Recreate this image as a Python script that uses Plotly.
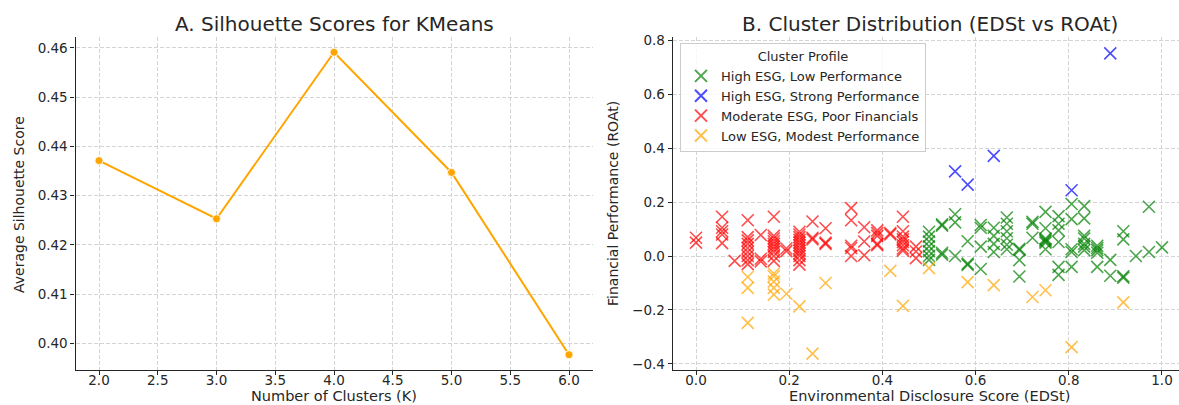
import plotly.graph_objects as go

# ---------------- data ----------------
k_values = [2, 3, 4, 5, 6]
silhouette = [0.4371, 0.4253, 0.4591, 0.4347, 0.3977]

green_name = "High ESG, Low Performance"
green_edst = [0.5, 0.5, 0.5, 0.5, 0.5, 0.5, 0.5,
              0.528, 0.528, 0.528, 0.528,
              0.556, 0.556, 0.556,
              0.583, 0.583, 0.583,
              0.611, 0.611, 0.611, 0.611,
              0.639, 0.639, 0.639, 0.639,
              0.667, 0.667, 0.667, 0.667, 0.667, 0.667,
              0.694, 0.694, 0.694, 0.694,
              0.722, 0.722, 0.722,
              0.75, 0.75, 0.75, 0.75, 0.75, 0.75, 0.75,
              0.778, 0.778, 0.778, 0.778, 0.778, 0.778,
              0.806, 0.806, 0.806, 0.806, 0.806,
              0.833, 0.833, 0.833, 0.833, 0.833, 0.833, 0.833,
              0.861, 0.861, 0.861, 0.861, 0.861,
              0.889, 0.889,
              0.917, 0.917, 0.917, 0.917,
              0.944,
              0.972, 0.972,
              1.0]
green_roat = [0.09, 0.072, 0.054, 0.036, 0.018, 0.0, -0.014,
              0.118, 0.113, 0.012, 0.005,
              0.155, 0.125, 0.0,
              0.055, -0.028, -0.033,
              0.115, 0.105, 0.035, -0.048,
              0.105, 0.075, 0.045, 0.015,
              0.143, 0.12, 0.092, 0.066, 0.042, 0.025,
              0.027, 0.022, -0.015, -0.076,
              0.127, 0.12, 0.068,
              0.164, 0.103, 0.065, 0.06, 0.055, 0.05, 0.025,
              0.148, 0.12, 0.095, 0.052, -0.04, -0.07,
              0.193, 0.137, 0.025, 0.015, -0.04,
              0.185, 0.14, 0.075, 0.065, 0.045, 0.035, 0.022,
              0.038, 0.03, 0.022, 0.012, -0.04,
              -0.014, -0.073,
              0.092, 0.062, -0.075, -0.08,
              0.0,
              0.183, 0.015,
              0.032]

blue_name = "High ESG, Strong Performance"
blue_edst = [0.556, 0.583, 0.639, 0.806, 0.889]
blue_roat = [0.314, 0.265, 0.372, 0.244, 0.752]

red_name = "Moderate ESG, Poor Financials"
red_edst = [0.0, 0.0,
            0.056, 0.056, 0.056, 0.056, 0.056,
            0.083,
            0.111, 0.111, 0.111, 0.111, 0.111, 0.111, 0.111, 0.111, 0.111,
            0.139, 0.139, 0.139,
            0.167, 0.167, 0.167, 0.167, 0.167, 0.167, 0.167, 0.167, 0.167, 0.167,
            0.194, 0.194,
            0.222, 0.222, 0.222, 0.222, 0.222, 0.222, 0.222, 0.222, 0.222, 0.222, 0.222, 0.222,
            0.25, 0.25, 0.25,
            0.278, 0.278, 0.278,
            0.333, 0.333, 0.333, 0.333, 0.333,
            0.361, 0.361, 0.361,
            0.389, 0.389, 0.389, 0.389, 0.389,
            0.417, 0.417,
            0.444, 0.444, 0.444, 0.444, 0.444, 0.444, 0.444, 0.444,
            0.472, 0.472, 0.472]
red_roat = [0.068, 0.05,
            0.146, 0.105, 0.092, 0.08, 0.048,
            -0.018,
            0.133, 0.07, 0.058, 0.045, 0.03, 0.015, 0.0, -0.015, -0.03,
            0.078, -0.01, -0.02,
            0.146, 0.075, 0.065, 0.055, 0.045, 0.035, 0.025, 0.015, 0.0, -0.018,
            0.028, 0.018,
            0.09, 0.08, 0.07, 0.06, 0.05, 0.04, 0.03, 0.02, 0.01, 0.0, -0.015, -0.032,
            0.128, 0.068, 0.062,
            0.103, 0.05, 0.045,
            0.178, 0.133, 0.038, 0.03, 0.0,
            0.107, 0.054, 0.003,
            0.095, 0.085, 0.075, 0.045, 0.04,
            0.085, 0.08,
            0.146, 0.092, 0.072, 0.062, 0.052, 0.04, 0.028, 0.02,
            0.035, 0.017, -0.008]

orange_name = "Low ESG, Modest Performance"
orange_edst = [0.111, 0.111, 0.111,
               0.167, 0.167, 0.167, 0.167, 0.167,
               0.194, 0.222, 0.25, 0.278, 0.417, 0.444, 0.5,
               0.583, 0.639, 0.722, 0.75, 0.806, 0.917]
orange_roat = [-0.078, -0.118, -0.248,
               -0.065, -0.075, -0.095, -0.118, -0.143,
               -0.14, -0.187, -0.362, -0.1, -0.055, -0.185, -0.045,
               -0.097, -0.108, -0.152, -0.127, -0.338, -0.172]

x1_ticks = [2.0, 2.5, 3.0, 3.5, 4.0, 4.5, 5.0, 5.5, 6.0]
y1_ticks = [0.40, 0.41, 0.42, 0.43, 0.44, 0.45, 0.46]
x2_ticks = [0.0, 0.2, 0.4, 0.6, 0.8, 1.0]
y2_ticks = [-0.4, -0.2, 0.0, 0.2, 0.4, 0.6, 0.8]

# ---------------- figure ----------------
W, H = 1179, 405
TOP, BOT = 37, 370
PH = BOT - TOP
FONT = "DejaVu Sans"
TXT = "#262626"

def py(pix):
    """pixel row -> paper y"""
    return (BOT - pix) / PH

fig = go.Figure()

fig.add_trace(go.Scatter(
    x=k_values, y=silhouette, mode="lines+markers",
    line=dict(color="#FFA500", width=2),
    marker=dict(size=8, color="#FFA500", line=dict(color="white", width=0.8)),
    xaxis="x", yaxis="y", showlegend=False))

clusters = [
    (green_name, green_edst, green_roat, "rgba(0,128,0,0.7)"),
    (blue_name, blue_edst, blue_roat, "rgba(0,0,255,0.7)"),
    (red_name, red_edst, red_roat, "rgba(255,0,0,0.7)"),
    (orange_name, orange_edst, orange_roat, "rgba(255,165,0,0.7)"),
]
for name, xs, ys, col in clusters:
    fig.add_trace(go.Scatter(
        x=xs, y=ys, mode="markers", name=name,
        marker=dict(symbol="x-thin", size=12, color=col,
                    line=dict(color=col, width=1.6)),
        xaxis="x2", yaxis="y2"))

axis_common = dict(
    showline=True, linecolor=TXT, linewidth=1.2, mirror=False,
    ticks="outside", ticklen=4, tickwidth=1, tickcolor=TXT,
    showgrid=True, gridcolor="#d4d4d4", griddash="4px,2px", gridwidth=0.8,
    zeroline=False, tickfont=dict(family=FONT, size=13.5, color=TXT),
)

L1, R1 = 75.5, 592.5
L2, R2full = 672.7, 1186.3

fig.update_layout(
    width=W, height=H,
    margin=dict(l=0, r=0, t=TOP, b=H - BOT),
    paper_bgcolor="white", plot_bgcolor="white",
    font=dict(family=FONT, color=TXT),
    xaxis=dict(domain=[L1 / W, R1 / W], range=[1.8, 6.2],
               tickvals=x1_ticks, tickformat=".1f", anchor="y",
               ticklabelstandoff=-6, **axis_common),
    yaxis=dict(domain=[0, 1], range=[0.3946, 0.4622],
               tickvals=y1_ticks, tickformat=".2f", anchor="x", **axis_common),
    xaxis2=dict(domain=[L2 / W, 1.0], range=[-0.05, 1.0365],
                tickvals=x2_ticks, tickformat=".1f", anchor="y2",
                ticklabelstandoff=-6, **axis_common),
    yaxis2=dict(domain=[0, 1], range=[-0.423, 0.813],
                tickvals=y2_ticks, tickformat=".1f", anchor="x2", **axis_common),
    legend=dict(
        x=680 / W, y=py(43), xanchor="left", yanchor="top",
        bgcolor="rgba(255,255,255,0.8)", bordercolor="#cccccc", borderwidth=1,
        font=dict(family=FONT, size=13, color=TXT),
        title=dict(text="Cluster Profile", side="top center",
                   font=dict(family=FONT, size=13, color=TXT)),
        itemsizing="constant",
    ),
    annotations=[
        dict(text="A. Silhouette Scores for KMeans", xref="paper", yref="paper",
             x=(L1 + R1) / 2 / W, y=py(24), xanchor="center", yanchor="middle",
             showarrow=False, font=dict(family=FONT, size=20, color=TXT)),
        dict(text="B. Cluster Distribution (EDSt vs ROAt)", xref="paper", yref="paper",
             x=(L2 + R2full) / 2 / W, y=py(24), xanchor="center", yanchor="middle",
             showarrow=False, font=dict(family=FONT, size=20, color=TXT)),
        dict(text="Number of Clusters (K)", xref="paper", yref="paper",
             x=(L1 + R1) / 2 / W, y=py(396), xanchor="center", yanchor="middle",
             showarrow=False, font=dict(family=FONT, size=14.5, color=TXT)),
        dict(text="Environmental Disclosure Score (EDSt)", xref="paper", yref="paper",
             x=(L2 + R2full) / 2 / W, y=py(396), xanchor="center", yanchor="middle",
             showarrow=False, font=dict(family=FONT, size=14.5, color=TXT)),
        dict(text="Average Silhouette Score", xref="paper", yref="paper",
             x=19 / W, y=py(205), xanchor="center", yanchor="middle", textangle=-90,
             showarrow=False, font=dict(family=FONT, size=14, color=TXT)),
        dict(text="Financial Performance (ROAt)", xref="paper", yref="paper",
             x=613 / W, y=py(204), xanchor="center", yanchor="middle", textangle=-90,
             showarrow=False, font=dict(family=FONT, size=14, color=TXT)),
    ],
)

# remove the browser's default 8px page margin so the figure sits at (0, 0)
fig.write_html("out.html",
               config={"displayModeBar": False},
               post_script="document.body.style.margin='0';document.body.style.overflow='hidden';")
